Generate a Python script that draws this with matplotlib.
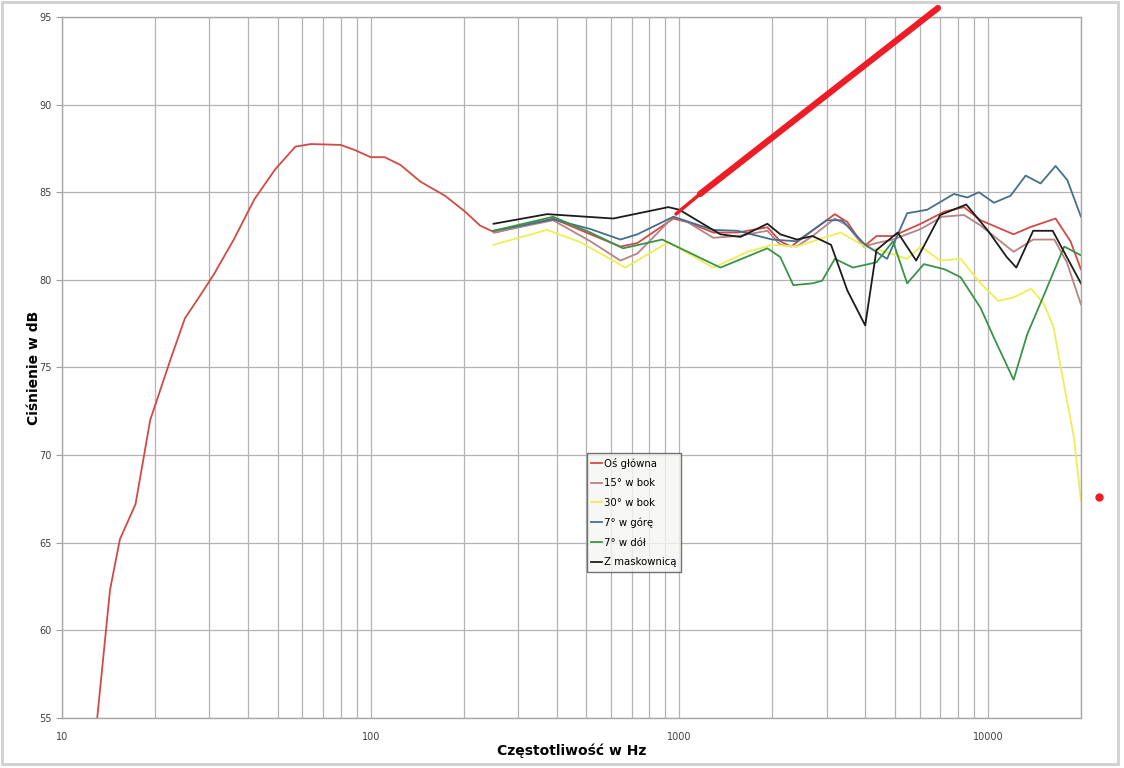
import matplotlib
matplotlib.use("Agg")
import matplotlib.pyplot as plt
from matplotlib.lines import Line2D
from matplotlib.patches import Rectangle
from matplotlib.ticker import LogLocator, NullFormatter, FixedLocator, FixedFormatter

# Oś główna (pełny zakres)
f_main = [13, 14.3, 15.4, 17.3, 19.3, 22.4, 25, 28, 31, 36, 42, 49, 57, 64, 80, 89,
          100, 111, 125, 145, 174, 202, 226, 253, 390, 515, 644, 731, 956, 1061,
          1288, 1542, 1928, 2123, 2300, 2600, 3190, 3500, 3960, 4350, 4920, 6050,
          7240, 8360, 9460, 12100, 13660, 16550, 18500, 20000]
db_main = [55, 62.3, 65.2, 67.2, 72.0, 75.4, 77.8, 79.1, 80.3, 82.3, 84.6, 86.3, 87.6,
           87.75, 87.7, 87.4, 87.0, 87.0, 86.55, 85.6, 84.8, 83.9, 83.1, 82.7, 83.5,
           82.6, 81.9, 82.1, 83.5, 83.3, 82.7, 82.7, 83.0, 82.2, 81.9, 82.6, 83.75,
           83.3, 81.9, 82.5, 82.5, 83.2, 83.9, 84.15, 83.4, 82.6, 83.0, 83.5, 82.2, 80.6]

f_15 = [250, 390, 515, 644, 731, 956, 1061, 1288, 1542, 1928, 2123, 2400, 2700, 3190,
        3500, 3960, 4350, 4920, 6050, 7100, 8360, 9460, 12100, 14000, 16400, 18000, 20000]
db_15 = [82.7, 83.4, 82.2, 81.1, 81.5, 83.6, 83.3, 82.4, 82.5, 82.8, 82.0, 81.9, 82.5,
         83.5, 83.1, 81.9, 82.1, 82.3, 82.9, 83.6, 83.7, 83.1, 81.6, 82.3, 82.3, 81.0, 78.6]

f_30 = [250, 373, 478, 668, 921, 1288, 1663, 2000, 2404, 2700, 3330, 4000, 4450, 5470,
        6050, 7000, 8150, 9460, 10800, 12100, 13800, 15200, 16300, 17180, 18960, 20000]
db_30 = [82.0, 82.85, 82.15, 80.7, 82.15, 80.7, 81.6, 82.0, 81.9, 82.2, 82.7, 81.9, 81.7,
         81.2, 81.9, 81.1, 81.2, 79.8, 78.8, 79.0, 79.5, 78.6, 77.3, 75.05, 71.05, 67.4]

f_up = [250, 390, 515, 644, 731, 956, 1288, 1542, 2000, 2404, 3000, 3365, 4000, 4710,
        5470, 6350, 7750, 8570, 9340, 10450, 11830, 13240, 14800, 16550, 18060, 20000]
db_up = [82.8, 83.45, 82.9, 82.3, 82.6, 83.6, 82.85, 82.8, 82.3, 82.2, 83.4, 83.4, 82.0,
         81.2, 83.8, 84.0, 84.9, 84.7, 85.0, 84.4, 84.8, 85.95, 85.5, 86.5, 85.7, 83.6]

f_down = [250, 390, 515, 657, 880, 1358, 1928, 2123, 2340, 2700, 2900, 3190, 3650, 4350,
          4920, 5470, 6200, 7240, 8150, 9460, 10450, 12100, 13400, 15400, 17650, 20000]
db_down = [82.8, 83.6, 82.7, 81.8, 82.3, 80.7, 81.8, 81.3, 79.7, 79.8, 79.95, 81.2, 80.7,
           81.0, 82.2, 79.8, 80.9, 80.6, 80.15, 78.4, 76.7, 74.3, 76.9, 79.4, 81.9, 81.4]

f_mask = [250, 373, 611, 921, 1000, 1358, 1577, 1928, 2123, 2404, 2700, 3100, 3500, 4000,
          4350, 5100, 5850, 7000, 8500, 10000, 11500, 12350, 14000, 16200, 20000]
db_mask = [83.2, 83.75, 83.5, 84.15, 84.0, 82.6, 82.45, 83.2, 82.6, 82.3, 82.5, 82.0, 79.4,
           77.4, 81.7, 82.7, 81.1, 83.7, 84.3, 82.8, 81.3, 80.7, 82.8, 82.8, 79.8]

labels = ["Oś główna", "15° w bok", "30° w bok", "7° w górę", "7° w dół", "Z maskownicą"]
colors = ["#d24a45", "#b98283", "#eeee55", "#44708e", "#3a9448", "#1c1c1c"]

fig = plt.figure(figsize=(11.24, 7.68), dpi=100)
ax = fig.add_axes([0.0552, 0.0651, 0.9065, 0.9128])

series = [(f_main, db_main), (f_15, db_15), (f_30, db_30),
          (f_up, db_up), (f_down, db_down), (f_mask, db_mask)]
for (f, db), lab, c in zip(series, labels, colors):
    ax.plot(f, db, color=c, lw=1.3, label=lab)

ax.set_xscale("log")
ax.set_xlim(10, 20000)
ax.set_ylim(55, 95)
ax.xaxis.set_major_locator(FixedLocator([10, 100, 1000, 10000]))
ax.xaxis.set_major_formatter(FixedFormatter(["10", "100", "1000", "10000"]))
ax.xaxis.set_minor_locator(LogLocator(base=10, subs=range(2, 10)))
ax.xaxis.set_minor_formatter(NullFormatter())
ax.set_yticks(range(55, 96, 5))
ax.grid(True, which="both", axis="x", color="#b4b4b4", lw=0.9)
ax.grid(True, which="major", axis="y", color="#b4b4b4", lw=0.9)
ax.tick_params(axis="x", which="both", length=0, pad=10, labelsize=7, labelcolor="#404040")
ax.tick_params(axis="y", length=4, color="#a0a0a0", labelsize=7, labelcolor="#404040")
for s in ax.spines.values():
    s.set_color("#a8a8a8")
    s.set_linewidth(1.0)

ax.set_xlabel("Częstotliwość w Hz", fontsize=10, fontweight="bold", labelpad=1)
ax.set_ylabel("Ciśnienie w dB", fontsize=10, fontweight="bold", labelpad=-1)

leg = ax.legend(loc="upper left", bbox_to_anchor=(0.515, 0.378), fontsize=7.3,
                frameon=True, fancybox=False, handlelength=1.1, handletextpad=0.1,
                labelspacing=0.95, borderpad=0.45, borderaxespad=0)
leg.get_frame().set_edgecolor("#505050")
leg.get_frame().set_facecolor("#f6f6f4")
leg.get_frame().set_linewidth(1.0)

# ramka wokół całego wykresu
fig.add_artist(Rectangle((0.002, 0.005), 0.993, 0.992, transform=fig.transFigure,
                         fill=False, edgecolor="#d0d0d0", lw=2))

# odręczne dopiski na czerwono
fig.add_artist(Line2D([676 / 1124, 700 / 1124], [1 - 214 / 768, 1 - 194 / 768],
                      transform=fig.transFigure, color="#ee1c24", lw=2.5,
                      solid_capstyle="round"))
fig.add_artist(Line2D([700 / 1124, 938 / 1124], [1 - 194 / 768, 1 - 8 / 768],
                      transform=fig.transFigure, color="#ee1c24", lw=4.5,
                      solid_capstyle="round"))
fig.add_artist(Line2D([1099 / 1124], [1 - 497 / 768], transform=fig.transFigure,
                      marker="o", markersize=5, color="#ee1c24", lw=0))

fig.savefig("out.png", dpi=100)
